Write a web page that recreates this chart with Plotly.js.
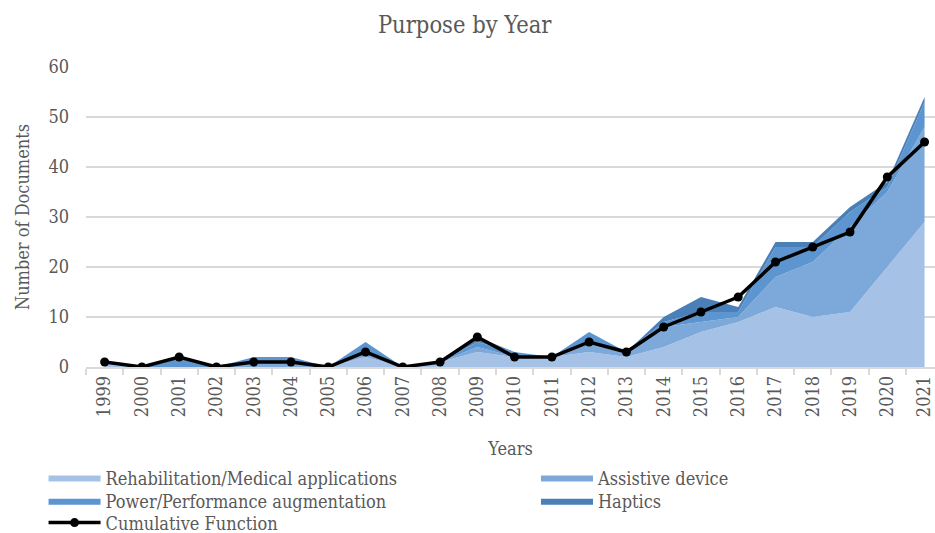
<!DOCTYPE html>
<html>
<head>
<meta charset="utf-8">
<script src="https://cdn.plot.ly/plotly-3.0.1.min.js"></script>
<style>html,body{margin:0;padding:0;background:#fff;}#chart{width:935px;height:533px;}</style>
</head>
<body>
<div id="chart"></div>
<script>
const years = ["1999","2000","2001","2002","2003","2004","2005","2006","2007","2008","2009","2010","2011","2012","2013","2014","2015","2016","2017","2018","2019","2020","2021"];
const rehab      = [1,0,0,0,0,0,0,2,0,1,3,2,2,3,2,4,7,9,12,10,11,20,29];
const assistive  = [0,0,0,0,1,1,0,1,0,0,1,0,0,2,1,4,2,1,6,11,17,15,19];
const power      = [0,0,2,0,1,1,0,2,0,0,1,1,0,2,0,1,2,1,6,3,3,1,5];
const haptics    = [0,0,0,0,0,0,0,0,0,0,1,0,0,0,0,1,3,1,1,1,1,1,1];
const cumulative = [1,0,2,0,1,1,0,3,0,1,6,2,2,5,3,8,11,14,21,24,27,38,45];

const FONT = "'Palatino Linotype','Book Antiqua',Palatino,'DejaVu Serif Condensed','Liberation Serif',serif";
const GREY = "#595959";

function area(name, y, color, lg) {
  return {x: years, y: y, name: name, type: "scatter", mode: "lines", legend: lg,
    stackgroup: "one", line: {width: 0, color: color}, fillcolor: color, hoverinfo: "x+y+name"};
}
const data = [
  area("Rehabilitation/Medical applications", rehab, "#a5c2e6", "legend"),
  area("Assistive device", assistive, "#7da9da", "legend2"),
  area("Power/Performance augmentation", power, "#5c95cf", "legend3"),
  area("Haptics", haptics, "#4a80b7", "legend4"),
  {x: years, y: cumulative, name: "Cumulative Function", type: "scatter", mode: "lines+markers",
   legend: "legend5",
   line: {color: "#000", width: 3.5}, marker: {color: "#000", size: 9}}
];

const legendBase = {orientation: "v", xanchor: "left", yanchor: "top", itemwidth: 52,
  font: {family: FONT, size: 18, color: GREY}, tracegroupgap: 0, traceorder: "normal",
  bgcolor: "rgba(0,0,0,0)"};
const colX = [-0.05, 0.53];
const rowY = [-0.308, -0.385, -0.458];

const layout = {
  width: 935, height: 533,
  margin: {l: 86, r: 0, t: 67, b: 166, autoexpand: false},
  paper_bgcolor: "#fff", plot_bgcolor: "#fff",
  font: {family: FONT, color: GREY, size: 18},
  title: {text: "Purpose by Year", x: 0.497, xanchor: "center", y: 0.953, yanchor: "middle",
          font: {family: FONT, size: 23.5, color: GREY}},
  showlegend: true,
  legend:  Object.assign({}, legendBase, {x: colX[0], y: rowY[0]}),
  legend2: Object.assign({}, legendBase, {x: colX[1], y: rowY[0]}),
  legend3: Object.assign({}, legendBase, {x: colX[0], y: rowY[1]}),
  legend4: Object.assign({}, legendBase, {x: colX[1], y: rowY[1]}),
  legend5: Object.assign({}, legendBase, {x: colX[0], y: rowY[2]}),
  xaxis: {type: "category", range: [-0.5, 22.28], showgrid: false, zeroline: false,
          showline: true, linecolor: "#d9d9d9", linewidth: 1.5,
          ticks: "outside", ticklen: 6, tickcolor: "#d9d9d9", tickwidth: 1.5, tickson: "boundaries",
          tickangle: -90, tickfont: {family: FONT, size: 18, color: GREY},
          title: {text: "Years", standoff: 26, font: {family: FONT, size: 18, color: GREY}}},
  yaxis: {range: [0, 60], dtick: 10, showgrid: true, gridcolor: "#d9d9d9", gridwidth: 1.5,
          zeroline: false, showline: false, ticks: "", ticklabelstandoff: 16,
          tickfont: {family: FONT, size: 18, color: GREY},
          title: {text: "Number of Documents", standoff: 14, font: {family: FONT, size: 18, color: GREY}}}
};

Plotly.newPlot("chart", data, layout, {displayModeBar: false, responsive: false});
</script>
</body>
</html>
